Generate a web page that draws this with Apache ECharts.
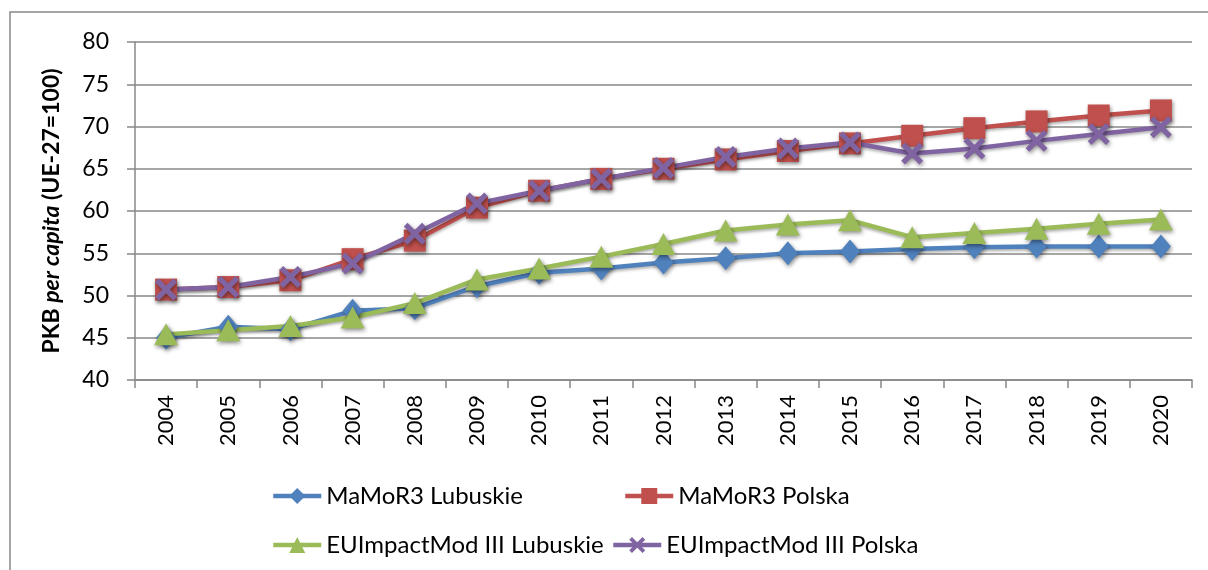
<!DOCTYPE html>
<html>
<head>
<meta charset="utf-8">
<script src="https://cdn.jsdelivr.net/npm/echarts@6/dist/echarts.min.js"></script>
<style>
html,body{margin:0;padding:0;background:#fff;}
#chart{width:1208px;height:570px;}
</style>
</head>
<body>
<div id="chart"></div>
<script>
const years = ['2004','2005','2006','2007','2008','2009','2010','2011','2012','2013','2014','2015','2016','2017','2018','2019','2020'];
const mamorLubuskie = [45.0, 46.3, 46.0, 48.2, 48.5, 51.1, 52.7, 53.2, 53.9, 54.4, 55.0, 55.2, 55.5, 55.7, 55.8, 55.8, 55.8];
const mamorPolska   = [50.7, 51.0, 51.8, 54.3, 56.5, 60.4, 62.4, 63.8, 65.0, 66.1, 67.1, 68.0, 68.9, 69.8, 70.6, 71.3, 71.9];
const euiLubuskie   = [45.4, 45.9, 46.4, 47.4, 49.1, 51.9, 53.2, 54.6, 56.1, 57.7, 58.4, 58.9, 56.9, 57.4, 57.9, 58.5, 59.0];
const euiPolska     = [50.7, 51.0, 52.2, 53.8, 57.3, 60.9, 62.4, 63.8, 65.1, 66.4, 67.4, 68.1, 66.8, 67.4, 68.3, 69.1, 69.9];
const seriesNames = ['MaMoR3 Lubuskie','MaMoR3 Polska','EUImpactMod III Lubuskie','EUImpactMod III Polska'];
const yTicks = {min: 40, max: 80, step: 5};

const FONT = 'Lato, "Open Sans", sans-serif';
const xPath = 'path://M0,1.7L1.7,0L5,3.3L8.3,0L10,1.7L6.7,5L10,8.3L8.3,10L5,6.7L1.7,10L0,8.3L3.3,5Z';
const shadow = {shadowBlur: 4, shadowColor: 'rgba(0,0,0,0.45)', shadowOffsetX: 1, shadowOffsetY: 2};

function mk(name, data, color, symbol, size) {
  return {
    name: name, type: 'line', data: data,
    symbol: symbol, symbolSize: size,
    lineStyle: {color: color, width: 4.5, shadowBlur: 3, shadowColor: 'rgba(0,0,0,0.3)', shadowOffsetY: 2},
    itemStyle: Object.assign({color: color}, shadow),
    emphasis: {disabled: true},
    animation: false
  };
}

const chart = echarts.init(document.getElementById('chart'), null, {renderer: 'canvas'});
const legendBase = {
  orient: 'horizontal', itemWidth: 48, itemHeight: 20, itemGap: 4,
  textStyle: {fontFamily: FONT, fontSize: 24, color: '#000'},
  lineStyle: {width: 4.5},
  selectedMode: false
};
chart.setOption({
  backgroundColor: '#fff',
  graphic: [{type: 'rect', shape: {x: 10, y: 12, width: 1220, height: 580},
    style: {fill: 'none', stroke: '#888', lineWidth: 1.5}, silent: true}],
  grid: {left: 135, right: 16, top: 42, bottom: 190},
  legend: [
    Object.assign({data: [seriesNames[0]], left: 266, top: 479}, legendBase),
    Object.assign({data: [seriesNames[1]], left: 618, top: 479}, legendBase),
    Object.assign({data: [seriesNames[2]], left: 266, top: 528}, legendBase),
    Object.assign({data: [seriesNames[3]], left: 606, top: 528}, legendBase)
  ],
  xAxis: {
    type: 'category', data: years, boundaryGap: true,
    axisLine: {lineStyle: {color: '#888', width: 1.5}},
    axisTick: {show: true, interval: 0, length: 8, lineStyle: {color: '#888', width: 1.5}},
    axisLabel: {rotate: 90, interval: 0, margin: 15, fontFamily: FONT, fontSize: 22, color: '#000'},
    splitLine: {show: false}
  },
  yAxis: {
    type: 'value', min: yTicks.min, max: yTicks.max, interval: yTicks.step,
    name: '{b|PKB }{i|per capita}{b| (UE-27=100)}',
    nameLocation: 'middle', nameRotate: 90, nameGap: 72,
    nameTextStyle: {rich: {
      b: {fontFamily: FONT, fontSize: 23, fontWeight: 'bold', color: '#000'},
      i: {fontFamily: FONT, fontSize: 23, fontWeight: 'bold', fontStyle: 'italic', color: '#000'}
    }},
    axisLine: {show: true, lineStyle: {color: '#888', width: 1.5}},
    axisTick: {show: true, length: 8, lineStyle: {color: '#888', width: 1.5}},
    axisLabel: {margin: 26, fontFamily: FONT, fontSize: 23, color: '#000'},
    splitLine: {lineStyle: {color: '#888', width: 1.5}}
  },
  series: [
    mk(seriesNames[0], mamorLubuskie, '#4F81BD', 'diamond', [20, 24]),
    mk(seriesNames[1], mamorPolska, '#C0504D', 'rect', 22),
    mk(seriesNames[2], euiLubuskie, '#9BBB59', 'triangle', [24, 22]),
    mk(seriesNames[3], euiPolska, '#8064A2', xPath, 22)
  ]
});
</script>
</body>
</html>
